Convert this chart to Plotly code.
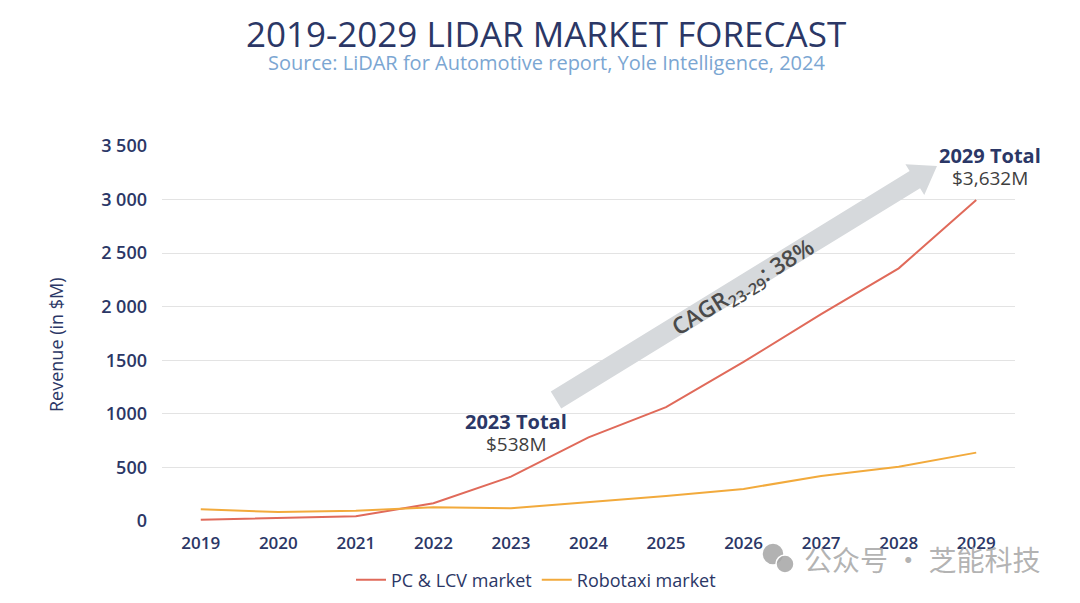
import math
import plotly.graph_objects as go

years = ["2019", "2020", "2021", "2022", "2023", "2024", "2025", "2026", "2027", "2028", "2029"]
pc_lcv = [12, 25, 44, 165, 414, 780, 1062, 1485, 1930, 2358, 2996]
robotaxi = [109, 84, 96, 128, 118, 174, 233, 299, 420, 507, 638]
y_tickvals = [0, 500, 1000, 1500, 2000, 2500, 3000, 3500]
y_ticktext = ["0", "500", "1000", "1500", "2 000", "2 500", "3 000", "3 500"]

NAVY = "#2b3766"
RED = "#e06a5a"
ORANGE = "#f2aa3c"
FONT = "Open Sans"

W, H = 1080, 603
L, R, T, B = 162, 65, 146, 82
PW, PH = W - L - R, H - T - B


def px2paper(px, py):
    return (px - L) / PW, (H - B - py) / PH


fig = go.Figure()
fig.add_trace(go.Scatter(x=years, y=pc_lcv, mode="lines", name="PC & LCV market",
                         line=dict(color=RED, width=2)))
fig.add_trace(go.Scatter(x=years, y=robotaxi, mode="lines", name="Robotaxi market",
                         line=dict(color=ORANGE, width=2)))

# decorative CAGR arrow (pixel geometry -> paper coords)
tx, ty = 556, 400
ex, ey = 937, 166
dx, dy = ex - tx, ey - ty
ln = math.hypot(dx, dy)
ux, uy = dx / ln, dy / ln
nx, ny = -uy, ux
w, hw, headlen = 10, 18, 26
bx, by = tx + (ln - headlen) * ux, ty + (ln - headlen) * uy
pts = [
    (tx + w * nx, ty + w * ny),
    (bx + w * nx, by + w * ny),
    (bx + hw * nx, by + hw * ny),
    (ex, ey),
    (bx - hw * nx, by - hw * ny),
    (bx - w * nx, by - w * ny),
    (tx - w * nx, ty - w * ny),
]
pp = [px2paper(*p) for p in pts]
path = "M " + " L ".join(f"{a:.5f},{b:.5f}" for a, b in pp) + " Z"
fig.add_shape(type="path", path=path, xref="paper", yref="paper",
              fillcolor="#d6d9dc", line=dict(width=0), layer="above")

angle = -math.degrees(math.atan2(-dy, dx))
cx, cy = px2paper(743, 287)
fig.add_annotation(x=cx, y=cy, xref="paper", yref="paper", showarrow=False,
                   xanchor="center", yanchor="middle",
                   text="CAGR<sub>23-29</sub>: 38%", textangle=angle,
                   font=dict(family=FONT, size=23, color="#4a4a4a", weight=600))

for lx, ly, t1, t2 in [(516, 421, "2023 Total", "$538M"), (990, 155, "2029 Total", "$3,632M")]:
    ax, ay = px2paper(lx, ly)
    fig.add_annotation(x=ax, y=ay, xref="paper", yref="paper", showarrow=False,
                       text=t1, font=dict(family=FONT, size=20, color=NAVY, weight=700),
                       xanchor="center", yanchor="middle")
    ax2, ay2 = px2paper(lx, ly + 23)
    fig.add_annotation(x=ax2, y=ay2, xref="paper", yref="paper", showarrow=False,
                       text=t2, font=dict(family=FONT, size=19, color="#3e3e3e", weight=500),
                       xanchor="center", yanchor="middle")

# title and subtitle
tx0, ty0 = px2paper(546, 33)
fig.add_annotation(x=tx0, y=ty0, xref="paper", yref="paper", showarrow=False,
                   text="2019-2029 LIDAR MARKET FORECAST", xanchor="center", yanchor="middle",
                   font=dict(family=FONT, size=35, color=NAVY, weight=500))
sx0, sy0 = px2paper(546, 63)
fig.add_annotation(x=sx0, y=sy0, xref="paper", yref="paper", showarrow=False,
                   text="Source: LiDAR for Automotive report, Yole Intelligence, 2024",
                   xanchor="center", yanchor="middle",
                   font=dict(family=FONT, size=20, color="#7ba6d2"))

# y axis title
yx0, yy0 = px2paper(56, 345)
fig.add_annotation(x=yx0, y=yy0, xref="paper", yref="paper", showarrow=False,
                   text="Revenue (in $M)", textangle=-90, xanchor="center", yanchor="middle",
                   font=dict(family=FONT, size=18, color=NAVY, weight=500))

# watermark (icon + text)
WM = "rgba(165,165,165,0.85)"
for (ccx, ccy, rr) in [(773, 554, 11), (785, 564, 9)]:
    a0, b0 = px2paper(ccx - rr, ccy + rr)
    a1, b1 = px2paper(ccx + rr, ccy - rr)
    fig.add_shape(type="circle", xref="paper", yref="paper", x0=a0, y0=b0, x1=a1, y1=b1,
                  fillcolor=WM, line=dict(color="white", width=1.5), layer="above")
wx, wy = px2paper(922, 559)
fig.add_annotation(x=wx, y=wy, xref="paper", yref="paper", showarrow=False,
                   text="公众号 · 芝能科技",
                   font=dict(family="Noto Sans CJK SC", size=28, color=WM),
                   xanchor="center", yanchor="middle")

lgx, lgy = px2paper(536, 580)
fig.update_layout(
    width=W, height=H,
    margin=dict(l=L, r=R, t=T, b=B, autoexpand=False),
    paper_bgcolor="white", plot_bgcolor="white",
    showlegend=True,
    legend=dict(orientation="h", x=lgx, xanchor="center",
                y=lgy, yanchor="middle",
                font=dict(family=FONT, size=18, color=NAVY, weight=500), itemwidth=30),
    xaxis=dict(type="category", range=[-0.5, 10.5], showgrid=False, zeroline=False,
               showline=False, ticks="", ticklabelstandoff=10, automargin=False,
               tickfont=dict(family=FONT, size=17, color=NAVY, weight=600)),
    yaxis=dict(range=[0, 3500], tickvals=y_tickvals, ticktext=y_ticktext,
               showgrid=True, gridcolor="#e3e3e3", gridwidth=1, zeroline=False,
               showline=False, ticks="", ticklabelstandoff=14, automargin=False,
               tickfont=dict(family=FONT, size=18, color=NAVY, weight=600)),
)

fig.write_html("out.html", config={"displayModeBar": False},
               post_script="document.body.style.margin='0px';")
